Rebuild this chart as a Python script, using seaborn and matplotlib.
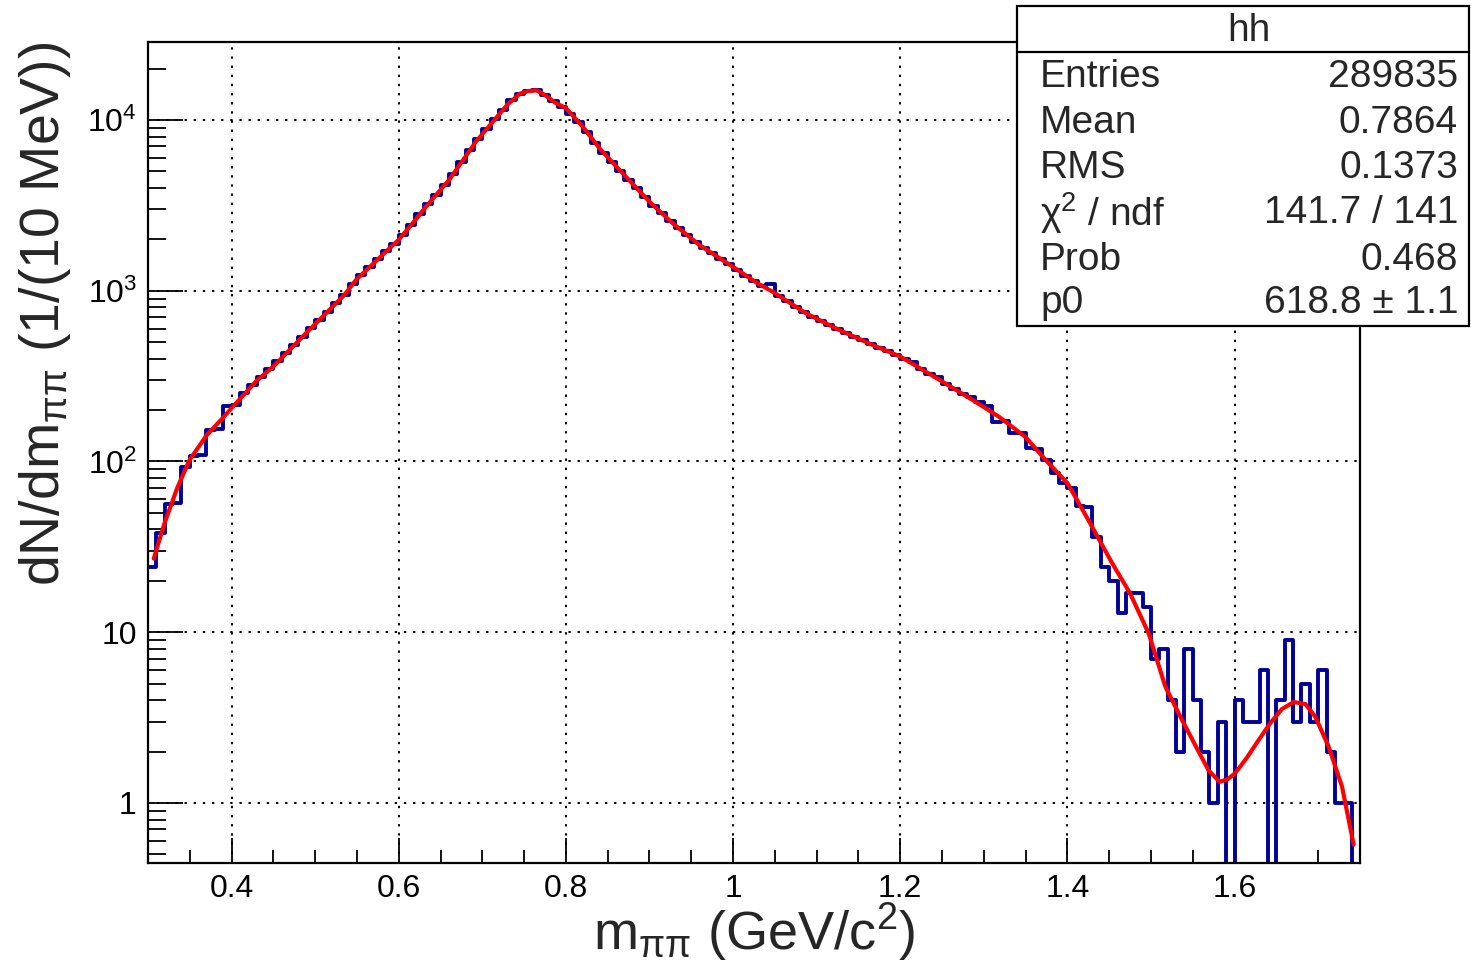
import matplotlib
matplotlib.use("Agg")
import matplotlib.pyplot as plt
import matplotlib.ticker as mticker
from matplotlib.patches import Rectangle
from matplotlib.lines import Line2D
import seaborn as sns
import numpy as np
import pandas as pd

# histogram: 145 bins of 10 MeV from 0.30 to 1.75 GeV
m_lo, m_hi, n_bins = 0.30, 1.75, 145
counts = [24, 38, 56, 57, 93, 108, 109, 152, 154, 210, 214, 253,
          280, 313, 348, 386, 430, 480, 537, 601, 673, 754, 845, 946,
          1094, 1236, 1374, 1527, 1698, 1884, 2128, 2440, 2799, 3206, 3648, 4155,
          4805, 5645, 6637, 7730, 8810, 10115, 11500, 13150, 14289, 14791, 14894, 13950,
          12850, 11900, 10900, 9750, 8510, 7360, 6440, 5700, 5050, 4480, 3980, 3530,
          3155, 2843, 2560, 2323, 2120, 1936, 1782, 1656, 1538, 1429, 1330, 1227,
          1141, 1067, 1090, 933, 869, 808, 750, 706, 667, 631, 596, 566,
          538, 512, 486, 463, 442, 422, 398, 380, 348, 325, 314, 284,
          265, 248, 240, 224, 210, 171, 172, 146, 147, 120, 119, 102,
          86, 75, 70, 55, 54, 36, 24, 20, 13, 17, 17, 14,
          7, 8, 4, 2, 8, 4, 2, 1, 3, 0, 4, 3,
          3, 6, 0, 4, 9, 3, 5, 3, 6, 2, 1, 1, 0]

# fit curve
fit_m = [0.3069, 0.3198, 0.335, 0.3497, 0.37, 0.3895, 0.4037, 0.4294, 0.45, 0.4695,
         0.49, 0.5171, 0.535, 0.549, 0.577, 0.600, 0.62, 0.6327, 0.6605, 0.6925,
         0.7164, 0.73, 0.745, 0.755, 0.765, 0.775, 0.788, 0.80, 0.82, 0.84,
         0.8677, 0.8997, 0.9275, 0.9594, 0.9992, 1.029, 1.047, 1.087, 1.1268, 1.1666,
         1.20, 1.2467, 1.2861, 1.318, 1.35, 1.374, 1.40, 1.425, 1.4535, 1.475,
         1.4974, 1.5172, 1.5372, 1.557, 1.569, 1.5822, 1.592, 1.601, 1.615, 1.6289,
         1.643, 1.6567, 1.6707, 1.6847, 1.6966, 1.7125, 1.7285, 1.7425]
fit_y = [27, 43.5, 70, 102, 142, 180, 215, 295, 360, 450,
         570, 773, 946, 1158, 1560, 1990, 2600, 3110, 4470, 7480,
         10260, 12300, 14250, 14780, 14900, 14000, 12560, 11740, 9160, 6840,
         4885, 3333, 2490, 1857, 1387, 1107, 989, 739, 590, 482,
         412, 301, 230, 183, 139, 102, 74.7, 45.5, 25.4, 16.9,
         9.8, 4.8, 3.06, 2.0, 1.55, 1.33, 1.38, 1.50, 1.85, 2.34,
         2.95, 3.55, 3.9, 3.8, 3.2, 2.14, 1.25, 0.57]

stats_title = "hh"
stats_names = ["Entries", "Mean", "RMS", "χ$^{2}$ / ndf", "Prob", "p0"]
stats_values = ["289835", "0.7864", "0.1373", "141.7 / 141", "0.468", "618.8 ± 1.1"]

sns.set_theme(style="ticks")
plt.rcParams["font.family"] = ["Liberation Sans", "DejaVu Sans"]
plt.rcParams["mathtext.fontset"] = "custom"
plt.rcParams["mathtext.rm"] = "Liberation Sans"
plt.rcParams["mathtext.it"] = "Liberation Sans:italic"
plt.rcParams["mathtext.bf"] = "Liberation Sans:bold"

bin_w = (m_hi - m_lo) / n_bins
centers = m_lo + bin_w * (np.arange(n_bins) + 0.5)
df = pd.DataFrame({"m": centers, "n": counts})

fig = plt.figure(figsize=(14.71, 9.6), dpi=100)
ax = fig.add_axes([0.1006, 0.101, 0.8239, 0.8552])

sns.histplot(data=df, x="m", weights="n", bins=n_bins, binrange=(m_lo, m_hi),
             element="step", fill=False, color="#000099", linewidth=2.8, ax=ax)
sns.lineplot(x=fit_m, y=fit_y, color="red", linewidth=3.0, sort=False, ax=ax)

ax.set_yscale("log")
ax.set_xlim(m_lo, m_hi)
ax.set_ylim(0.445, 28600)

ax.xaxis.set_major_locator(mticker.MultipleLocator(0.2))
ax.xaxis.set_minor_locator(mticker.MultipleLocator(0.05))
ax.xaxis.set_major_formatter(mticker.FuncFormatter(lambda v, p: f"{round(v, 2):g}"))

def y_fmt(v, pos):
    e = int(round(np.log10(v)))
    if e == 0:
        return "1"
    if e == 1:
        return "10"
    return rf"$10^{{{e}}}$"

ax.yaxis.set_major_locator(mticker.LogLocator(base=10))
ax.yaxis.set_minor_locator(mticker.LogLocator(base=10, subs=np.arange(2, 10)))
ax.yaxis.set_major_formatter(mticker.FuncFormatter(y_fmt))
ax.yaxis.set_minor_formatter(mticker.NullFormatter())

ax.tick_params(which="both", direction="in", top=False, right=False, colors="black",
               width=1.3, labelsize=23, pad=8)
ax.tick_params(axis="y", which="major", length=25)
ax.tick_params(axis="y", which="minor", length=13)
ax.tick_params(axis="x", which="major", length=18)
ax.tick_params(axis="x", which="minor", length=9.5)

ax.grid(True, which="major", color="black", linestyle=(0, (1.2, 3.5)), linewidth=1.4)
ax.set_axisbelow(True)
for s in ax.spines.values():
    s.set_visible(True)
    s.set_color("black")
    s.set_linewidth(1.6)

ax.set_xlabel(r"m$_{\mathrm{ππ}}$ (GeV/c$^{2}$)", fontsize=39)
ax.xaxis.set_label_coords(0.5, -0.046)
ax.set_ylabel(r"dN/dm$_{\mathrm{ππ}}$ (1/(10 MeV))", fontsize=40, loc="top")
ax.yaxis.set_label_coords(-0.062, 1.0)

# stats box
W, H = 1471.0, 960.0
box = Rectangle((1017 / W, (H - 326) / H), (1469 - 1017) / W, (326 - 6) / H,
                transform=fig.transFigure, facecolor="white", edgecolor="black",
                linewidth=1.6, zorder=10)
fig.add_artist(box)
fig.add_artist(Line2D([1017 / W, 1469 / W], [(H - 52) / H, (H - 52) / H],
                      transform=fig.transFigure, color="black", linewidth=1.6, zorder=11))
fig.text(1249 / W, (H - 31) / H, stats_title, ha="center", va="center", fontsize=28, zorder=12)
row_y = [77, 123, 168, 213, 260, 303]
for name, val, yy in zip(stats_names, stats_values, row_y):
    fig.text(1040 / W, (H - yy) / H, name, ha="left", va="center", fontsize=28, zorder=12)
    fig.text(1458 / W, (H - yy) / H, val, ha="right", va="center", fontsize=28, zorder=12)

fig.savefig("out.png", dpi=100)
